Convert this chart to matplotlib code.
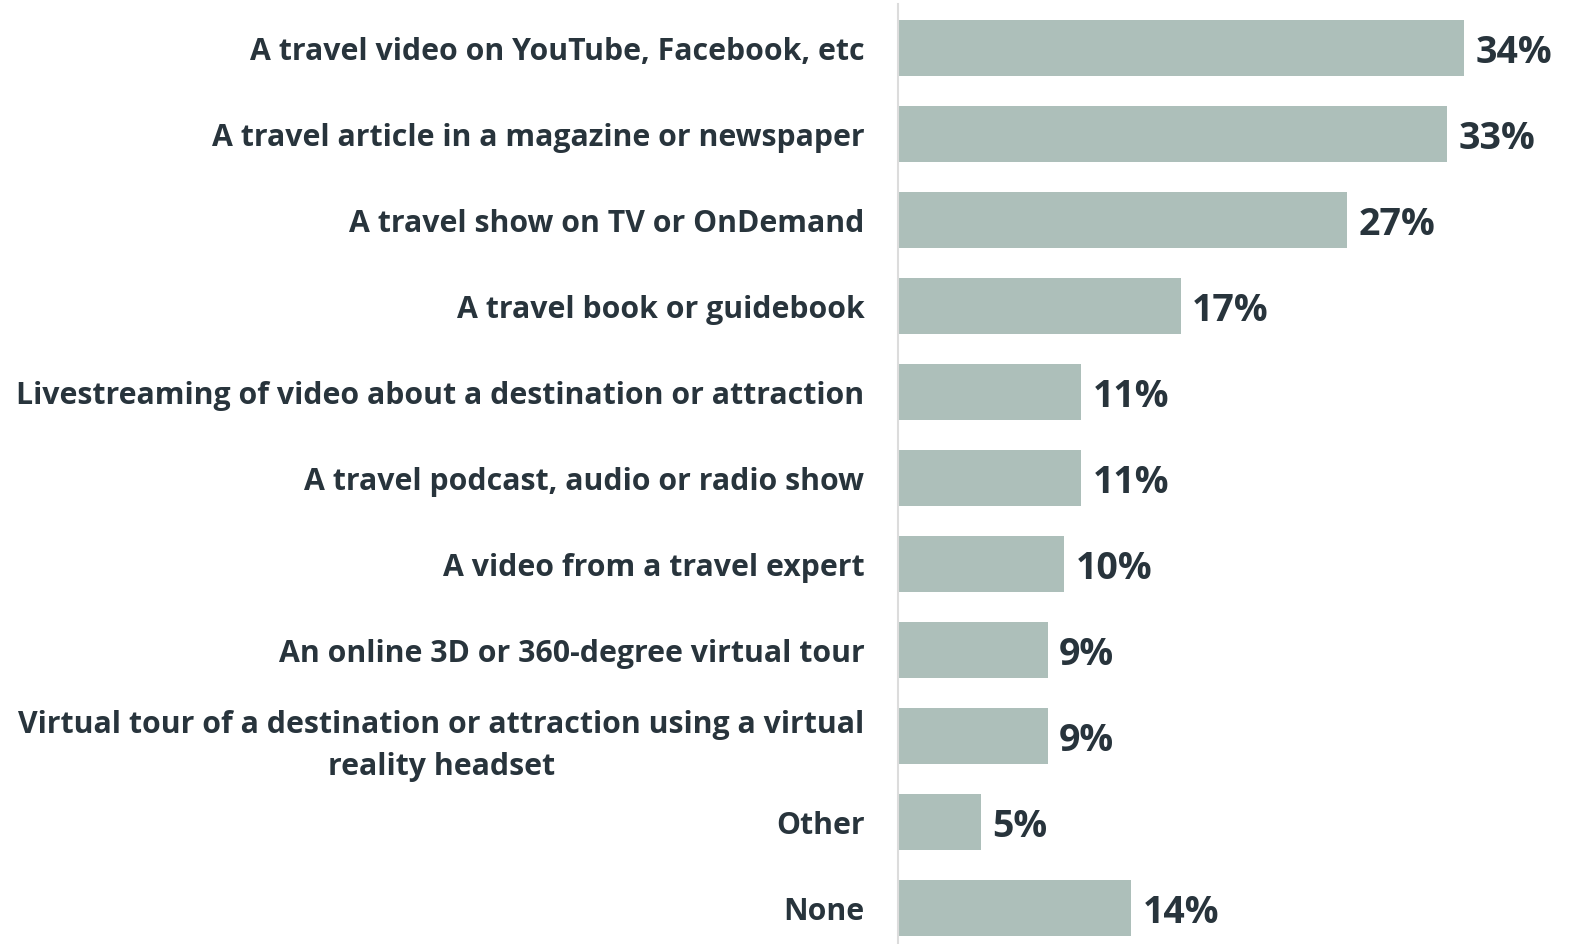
import matplotlib.pyplot as plt

# Share of respondents by media type
categories = [
    "A travel video on YouTube, Facebook, etc",
    "A travel article in a magazine or newspaper",
    "A travel show on TV or OnDemand",
    "A travel book or guidebook",
    "Livestreaming of video about a destination or attraction",
    "A travel podcast, audio or radio show",
    "A video from a travel expert",
    "An online 3D or 360-degree virtual tour",
    "Virtual tour of a destination or attraction using a virtual\nreality headset",
    "Other",
    "None",
]
values = [34, 33, 27, 17, 11, 11, 10, 9, 9, 5, 14]

BAR_COLOR = "#adbfba"
TEXT_COLOR = "#28343c"

plt.rcParams['font.family'] = ['Open Sans', 'DejaVu Sans']

fig = plt.figure(figsize=(15.75, 9.45), dpi=100)
ax = fig.add_axes([0.570, 0.001, 0.430, 0.994])

pos = list(range(len(categories)))
ax.barh(pos, values, height=0.65, color=BAR_COLOR)

for y, v in zip(pos, values):
    ax.text(v + 0.7, y, f"{v}%", va="center_baseline", ha="left",
            fontsize=27, fontweight="bold", color=TEXT_COLOR)

ax.set_xlim(0, 40.7)
ax.set_ylim(10.41, -0.51)
ax.set_yticks(pos)
ax.set_yticklabels(categories, fontsize=21.8, fontweight="bold", color=TEXT_COLOR)
for lbl in ax.get_yticklabels():
    lbl.set_multialignment("center")
    lbl.set_linespacing(1.5)
ax.tick_params(axis="y", length=0, pad=24)
ax.set_xticks([])

for side in ["top", "right", "bottom"]:
    ax.spines[side].set_visible(False)
ax.spines["left"].set_color("#dcdcdc")
ax.spines["left"].set_linewidth(1.5)

fig.savefig("out.png", dpi=100, facecolor="white")
